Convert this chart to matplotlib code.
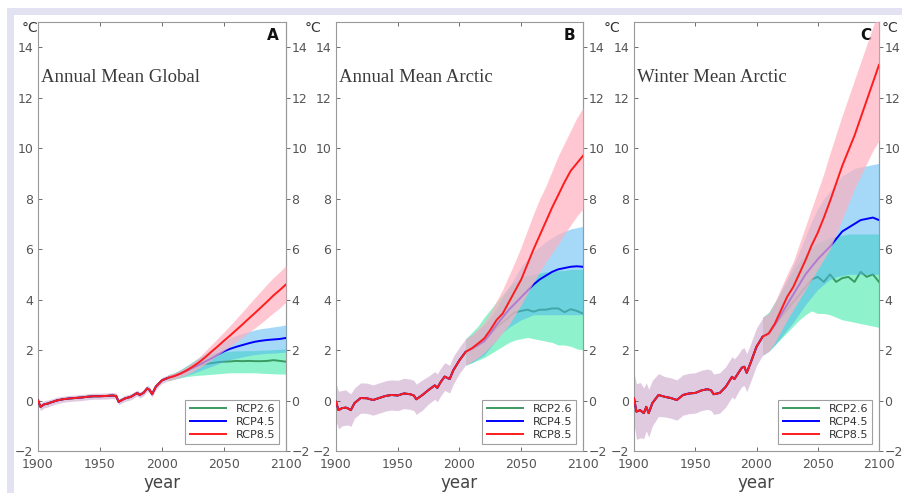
import numpy as np
import matplotlib
matplotlib.use('Agg')
import matplotlib.pyplot as plt
from matplotlib.patches import Rectangle

# years for the shared historical part and the scenario part
hist_years = [1900, 1902, 1905, 1908, 1910, 1912, 1915, 1920, 1925, 1930, 1935, 1940, 1945, 1950,
              1955, 1960, 1963, 1965, 1970, 1975, 1980, 1982, 1985, 1988, 1990, 1992, 1995, 2000, 2005]
proj_years = [2005, 2010, 2015, 2020, 2025, 2030, 2035, 2040, 2045, 2050,
              2055, 2060, 2065, 2070, 2075, 2080, 2085, 2090, 2095, 2100]

# Panel A: annual mean global
a_hist = [0.0, -0.25, -0.15, -0.12, -0.08, -0.05, 0.0, 0.05, 0.08, 0.1, 0.12, 0.15, 0.17, 0.17,
          0.18, 0.2, 0.18, -0.05, 0.08, 0.15, 0.3, 0.22, 0.3, 0.48, 0.42, 0.25, 0.55, 0.8, 0.9]
a_hist_spread = [0.15, 0.15, 0.14, 0.14, 0.13, 0.13, 0.13, 0.12, 0.12, 0.12, 0.12, 0.12, 0.12, 0.12,
                 0.12, 0.12, 0.12, 0.12, 0.12, 0.12, 0.12, 0.12, 0.12, 0.12, 0.12, 0.12, 0.12, 0.12, 0.12]
a_rcp85 = [0.9, 0.97, 1.07, 1.2, 1.35, 1.52, 1.72, 1.94, 2.15, 2.37, 2.58, 2.8, 3.02, 3.25, 3.47, 3.7, 3.93, 4.17, 4.38, 4.6]
a_rcp85_lo = [0.78, 0.85, 0.93, 1.03, 1.15, 1.3, 1.45, 1.63, 1.8, 1.98, 2.15, 2.33, 2.5, 2.7, 2.88, 3.07, 3.27, 3.48, 3.67, 3.9]
a_rcp85_hi = [1.02, 1.1, 1.2, 1.35, 1.52, 1.72, 1.97, 2.22, 2.47, 2.72, 2.98, 3.25, 3.52, 3.8, 4.08, 4.35, 4.62, 4.88, 5.1, 5.35]
a_rcp45 = [0.9, 0.97, 1.07, 1.18, 1.3, 1.42, 1.55, 1.67, 1.82, 1.95, 2.05, 2.13, 2.2, 2.27, 2.33, 2.37, 2.4, 2.42, 2.44, 2.48]
a_rcp45_lo = [0.78, 0.85, 0.92, 1.0, 1.08, 1.17, 1.27, 1.35, 1.45, 1.55, 1.62, 1.68, 1.73, 1.78, 1.82, 1.85, 1.87, 1.88, 1.9, 1.92]
a_rcp45_hi = [1.02, 1.1, 1.22, 1.37, 1.52, 1.7, 1.87, 2.03, 2.2, 2.35, 2.48, 2.58, 2.66, 2.73, 2.8, 2.85, 2.88, 2.92, 2.95, 3.0]
a_rcp26 = [0.9, 0.97, 1.07, 1.18, 1.3, 1.4, 1.45, 1.48, 1.52, 1.54, 1.55, 1.57, 1.56, 1.57, 1.56, 1.56, 1.57, 1.6, 1.57, 1.54]
a_rcp26_lo = [0.78, 0.85, 0.9, 0.95, 0.98, 1.0, 1.02, 1.04, 1.06, 1.08, 1.1, 1.1, 1.1, 1.1, 1.1, 1.08, 1.07, 1.06, 1.05, 1.05]
a_rcp26_hi = [1.02, 1.1, 1.23, 1.38, 1.55, 1.7, 1.8, 1.87, 1.9, 1.93, 1.95, 1.97, 1.97, 1.98, 1.98, 2.0, 2.0, 2.02, 2.03, 2.05]

# Panel B: annual mean arctic
b_hist = [-0.05, -0.38, -0.3, -0.28, -0.32, -0.38, -0.1, 0.1, 0.09, 0.02, 0.1, 0.18, 0.22, 0.2,
          0.28, 0.25, 0.2, 0.05, 0.22, 0.42, 0.6, 0.5, 0.75, 0.95, 0.9, 0.85, 1.2, 1.6, 1.93]
b_hist_spread = [0.75, 0.75, 0.7, 0.7, 0.65, 0.65, 0.6, 0.6, 0.6, 0.6, 0.6, 0.6, 0.6, 0.6,
                 0.6, 0.6, 0.6, 0.6, 0.6, 0.55, 0.55, 0.55, 0.55, 0.55, 0.55, 0.55, 0.55, 0.52, 0.52]
b_rcp85 = [1.93, 2.07, 2.26, 2.46, 2.8, 3.19, 3.45, 3.9, 4.35, 4.8, 5.4, 6.0, 6.55, 7.1, 7.65, 8.15, 8.65, 9.1, 9.4, 9.7]
b_rcp85_lo = [1.4, 1.55, 1.7, 1.9, 2.15, 2.4, 2.7, 3.0, 3.4, 3.8, 4.25, 4.7, 5.1, 5.5, 5.85, 6.2, 6.6, 6.95, 7.3, 7.6]
b_rcp85_hi = [2.45, 2.6, 2.85, 3.1, 3.5, 3.95, 4.4, 4.95, 5.5, 6.1, 6.75, 7.4, 8.0, 8.5, 9.1, 9.7, 10.2, 10.7, 11.2, 11.6]
b_rcp45 = [1.93, 2.05, 2.2, 2.35, 2.65, 3.0, 3.3, 3.6, 3.85, 4.1, 4.35, 4.6, 4.8, 4.95, 5.1, 5.2, 5.25, 5.3, 5.32, 5.3]
b_rcp45_lo = [1.4, 1.5, 1.65, 1.8, 2.1, 2.4, 2.7, 2.9, 3.05, 3.2, 3.3, 3.4, 3.4, 3.4, 3.4, 3.4, 3.4, 3.4, 3.4, 3.4]
b_rcp45_hi = [2.45, 2.6, 2.8, 3.0, 3.3, 3.65, 4.1, 4.5, 4.9, 5.3, 5.6, 5.9, 6.1, 6.3, 6.45, 6.6, 6.7, 6.8, 6.85, 6.9]
b_rcp26 = [1.93, 2.05, 2.2, 2.4, 2.65, 2.9, 3.1, 3.3, 3.5, 3.55, 3.6, 3.52, 3.6, 3.6, 3.65, 3.65, 3.5, 3.62, 3.55, 3.45]
b_rcp26_lo = [1.4, 1.5, 1.6, 1.7, 1.85, 2.0, 2.15, 2.3, 2.4, 2.45, 2.5, 2.45, 2.4, 2.35, 2.3, 2.2, 2.2, 2.15, 2.05, 2.0]
b_rcp26_hi = [2.45, 2.7, 2.95, 3.3, 3.6, 3.9, 4.2, 4.5, 4.7, 4.85, 4.95, 5.0, 5.05, 5.1, 5.1, 5.15, 5.15, 5.2, 5.2, 5.2]

# Panel C: winter mean arctic
c_hist = [0.09, -0.44, -0.38, -0.5, -0.25, -0.5, -0.1, 0.22, 0.15, 0.1, 0.02, 0.22, 0.28, 0.3,
          0.4, 0.45, 0.4, 0.25, 0.3, 0.55, 0.94, 0.85, 1.08, 1.3, 1.34, 1.1, 1.47, 2.13, 2.53]
c_hist_spread = [1.0, 1.1, 1.1, 1.0, 0.95, 0.95, 0.9, 0.85, 0.8, 0.8, 0.8, 0.8, 0.8, 0.8,
                 0.8, 0.8, 0.8, 0.8, 0.8, 0.8, 0.8, 0.8, 0.75, 0.75, 0.75, 0.75, 0.75, 0.75, 0.73]
c_rcp85 = [2.53, 2.66, 3.05, 3.58, 4.11, 4.5, 5.03, 5.56, 6.15, 6.65, 7.25, 7.9, 8.6, 9.3, 9.9, 10.5, 11.2, 11.9, 12.6, 13.3]
c_rcp85_lo = [1.8, 1.95, 2.3, 2.75, 3.2, 3.6, 4.0, 4.4, 4.8, 5.2, 5.6, 6.0, 6.6, 7.2, 7.8, 8.4, 8.9, 9.4, 9.9, 10.3]
c_rcp85_hi = [3.3, 3.45, 3.9, 4.45, 5.0, 5.5, 6.2, 6.9, 7.6, 8.3, 9.0, 9.8, 10.55, 11.3, 12.0, 12.7, 13.4, 14.1, 14.8, 15.5]
c_rcp45 = [2.53, 2.66, 3.0, 3.4, 3.8, 4.2, 4.6, 5.0, 5.3, 5.6, 5.85, 6.1, 6.4, 6.7, 6.85, 7.0, 7.15, 7.2, 7.25, 7.15]
c_rcp45_lo = [1.8, 1.95, 2.2, 2.5, 2.8, 3.1, 3.45, 3.8, 4.1, 4.4, 4.6, 4.8, 4.9, 4.95, 5.0, 5.0, 5.0, 5.0, 5.0, 5.0]
c_rcp45_hi = [3.3, 3.45, 3.85, 4.35, 4.85, 5.35, 5.9, 6.5, 7.1, 7.6, 8.0, 8.3, 8.6, 8.9, 9.05, 9.2, 9.25, 9.3, 9.35, 9.4]
c_rcp26 = [2.53, 2.66, 3.0, 3.3, 3.6, 3.9, 4.2, 4.5, 4.8, 4.9, 4.7, 5.0, 4.7, 4.85, 4.9, 4.7, 5.1, 4.9, 5.0, 4.7]
c_rcp26_lo = [1.8, 1.95, 2.2, 2.45, 2.7, 2.95, 3.2, 3.4, 3.55, 3.45, 3.45, 3.4, 3.3, 3.2, 3.15, 3.1, 3.05, 3.0, 2.95, 2.9]
c_rcp26_hi = [3.3, 3.5, 3.9, 4.3, 4.75, 5.15, 5.5, 5.8, 6.05, 6.25, 6.35, 6.45, 6.5, 6.55, 6.6, 6.6, 6.6, 6.6, 6.6, 6.6]

titles = ['Annual Mean Global', 'Annual Mean Arctic', 'Winter Mean Arctic']
letters = ['A', 'B', 'C']
scenarios = ['RCP2.6', 'RCP4.5', 'RCP8.5']
line_colors = ['#3a9a62', '#0000ff', '#ff1c1c']
band_colors = ['#1fe89a', '#4cb4f0', '#ffb0bf']
band_alphas = [0.5, 0.5, 0.7]
hist_band_color = '#c8a0c8'

panels = [
    (a_hist, a_hist_spread, [(a_rcp26, a_rcp26_lo, a_rcp26_hi), (a_rcp45, a_rcp45_lo, a_rcp45_hi), (a_rcp85, a_rcp85_lo, a_rcp85_hi)]),
    (b_hist, b_hist_spread, [(b_rcp26, b_rcp26_lo, b_rcp26_hi), (b_rcp45, b_rcp45_lo, b_rcp45_hi), (b_rcp85, b_rcp85_lo, b_rcp85_hi)]),
    (c_hist, c_hist_spread, [(c_rcp26, c_rcp26_lo, c_rcp26_hi), (c_rcp45, c_rcp45_lo, c_rcp45_hi), (c_rcp85, c_rcp85_lo, c_rcp85_hi)]),
]

W, H = 903, 493
fig = plt.figure(figsize=(W / 100, H / 100), dpi=100)
fig.patch.set_facecolor('white')

# lavender frame on top and left
fig.patches.append(Rectangle((7 / W, 1 - 15 / H), 1, 7 / H, transform=fig.transFigure,
                             facecolor='#e2e2f2', edgecolor='none', zorder=0))
fig.patches.append(Rectangle((7 / W, 0), 7 / W, 1 - 8 / H, transform=fig.transFigure,
                             facecolor='#e2e2f2', edgecolor='none', zorder=0))

lefts = [38, 336, 634]
widths = [248, 247, 245]
bottom = 1 - 451 / H
height = (451 - 22) / H
tick_col = '#555555'
yrs = np.array(hist_years[:-1] + proj_years)

for i, (hist, spread, scen) in enumerate(panels):
    ax = fig.add_axes([lefts[i] / W, bottom, widths[i] / W, height])
    hist = np.array(hist)
    spread = np.array(spread)

    # shared historical spread, drawn once
    ax.fill_between(hist_years, hist - spread, hist + spread, color=hist_band_color,
                    alpha=0.55, linewidth=0, zorder=1)
    # each scenario: band then line, so later bands tint earlier lines
    for k, (mean, lo, hi) in enumerate(scen):
        m = np.concatenate([hist[:-1], mean])
        ax.fill_between(proj_years, lo, hi, color=band_colors[k], alpha=band_alphas[k],
                        linewidth=0, zorder=2 + 2 * k)
        ax.plot(yrs, m, color=line_colors[k], lw=1.4, label=scenarios[k], zorder=3 + 2 * k)

    ax.set_xlim(1900, 2100)
    ax.set_ylim(-2, 15)
    ax.set_xticks([1900, 1950, 2000, 2050, 2100])
    ax.set_yticks(range(-2, 15, 2))
    ax.tick_params(direction='in', top=True, length=3, labelsize=9, colors=tick_col,
                   width=0.6)
    ax.tick_params(axis='x', pad=5)
    sec = ax.secondary_yaxis('right')
    sec.set_yticks(range(-2, 15, 2))
    sec.tick_params(direction='out', length=3, labelsize=9, colors=tick_col, width=0.6, pad=1)
    sec.spines['right'].set_color('#999999')
    for sp in ax.spines.values():
        sp.set_color('#999999')
        sp.set_linewidth(0.8)
    ax.set_xlabel('year', fontsize=12, color='#444444', labelpad=2)

    ax.text(1902.5, 12.8, titles[i], fontsize=13.5,
            family='Liberation Serif', color='#3a3a3a', va='center', ha='left')
    ax.text(0.97, 0.985, letters[i], transform=ax.transAxes, fontsize=11,
            fontweight='bold', color='#111111', va='top', ha='right')

    leg = ax.legend(loc='lower right', fontsize=8, handlelength=3.3, fancybox=False,
                    borderaxespad=0.6, labelspacing=0.25, borderpad=0.4)
    leg.set_zorder(20)
    leg.get_frame().set_edgecolor('#888888')
    leg.get_frame().set_linewidth(0.8)
    for t in leg.get_texts():
        t.set_color('#333333')

for xpx in [30, 313, 612, 890]:
    fig.text(xpx / W, 1 - 28 / H, '°C', fontsize=10, color='#333333', ha='center', va='center')

fig.savefig('out.png', dpi=100)
